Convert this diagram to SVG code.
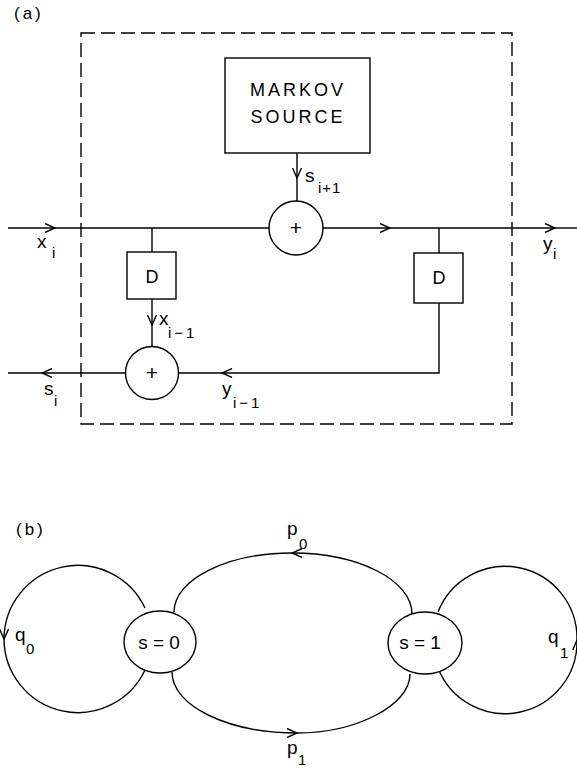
<svg xmlns="http://www.w3.org/2000/svg" width="577" height="770" viewBox="0 0 577 770">
<style>
.ln{fill:none;stroke:#000;stroke-width:1.4}
.bx{fill:#fff;stroke:#000;stroke-width:1.4}
.t{font-family:"Liberation Sans",Arial,sans-serif;fill:#000}
.m{font-size:19px}
.s{font-size:15px}
</style>
<defs>
<marker id="arr" viewBox="0 0 12 10" refX="11" refY="5" markerWidth="12" markerHeight="10" markerUnits="userSpaceOnUse" orient="auto"><path d="M1,0.5 L11,5 L1,9.5" fill="none" stroke="#000" stroke-width="1.4"/></marker>
</defs>
<rect width="577" height="770" fill="#fff"/>
<text class="t" x="14" y="19" font-size="17" letter-spacing="3">(a)</text>
<text class="t" x="16" y="535" font-size="17" letter-spacing="3">(b)</text>

<g id="connectors">
<!-- (a) -->
<line class="ln" x1="8" y1="228" x2="55" y2="228" marker-end="url(#arr)"/>
<line class="ln" x1="55" y1="228" x2="269" y2="228"/>
<line class="ln" x1="323" y1="228" x2="390" y2="228" marker-end="url(#arr)"/>
<line class="ln" x1="390" y1="228" x2="555" y2="228" marker-end="url(#arr)"/>
<line class="ln" x1="555" y1="228" x2="577" y2="228"/>
<line class="ln" x1="297" y1="153" x2="297" y2="178" marker-end="url(#arr)"/>
<line class="ln" x1="297" y1="178" x2="297" y2="201"/>
<line class="ln" x1="152" y1="228" x2="152" y2="252"/>
<line class="ln" x1="152" y1="299" x2="152" y2="325" marker-end="url(#arr)"/>
<line class="ln" x1="152" y1="325" x2="152" y2="347"/>
<line class="ln" x1="439" y1="228" x2="439" y2="253"/>
<polyline class="ln" points="439,303 439,373 222,373" marker-end="url(#arr)"/>
<line class="ln" x1="222" y1="373" x2="178" y2="373"/>
<line class="ln" x1="126" y1="373" x2="42" y2="373" marker-end="url(#arr)"/>
<line class="ln" x1="42" y1="373" x2="8" y2="373"/>
<!-- (b) -->
<path class="ln" d="M412,614 C412,580 358,553 292,553" marker-end="url(#arr)"/>
<path class="ln" d="M292,553 C228,553 174,579 174,612"/>
<path class="ln" d="M172,672 C172,706 228,733 297,733" marker-end="url(#arr)"/>
<path class="ln" d="M297,733 C355,733 410,706 410,674"/>
<path class="ln" d="M145,608 A74,74 0 0 0 4,639" marker-end="url(#arr)"/>
<path class="ln" d="M4,639 A74,74 0 0 0 145,670"/>
<path class="ln" d="M438,668 A72,72 0 0 0 577,640" marker-end="url(#arr)"/>
<path class="ln" d="M577,640 A72,72 0 0 0 438,612"/>
</g>

<g id="boundary">
<rect x="81" y="33" width="431" height="391" fill="none" stroke="#000" stroke-width="1.4" stroke-dasharray="14 6"/>
</g>

<g id="markov-source">
<rect class="bx" x="225" y="58" width="145" height="95"/>
<text class="t" x="298" y="96" font-size="18" letter-spacing="3" text-anchor="middle">MARKOV</text>
<text class="t" x="298" y="123" font-size="18" letter-spacing="3" text-anchor="middle">SOURCE</text>
</g>

<g id="adder-top">
<circle class="bx" cx="296" cy="228" r="27"/>
<text class="t" x="296" y="235" font-size="21" text-anchor="middle">+</text>
</g>

<g id="delay-x">
<rect class="bx" x="127" y="252" width="49" height="47"/>
<text class="t" x="152" y="283" font-size="18" text-anchor="middle">D</text>
</g>

<g id="delay-y">
<rect class="bx" x="414" y="253" width="49" height="50"/>
<text class="t" x="439" y="284" font-size="18" text-anchor="middle">D</text>
</g>

<g id="adder-bottom">
<circle class="bx" cx="152" cy="373" r="26.5"/>
<text class="t" x="152" y="380" font-size="21" text-anchor="middle">+</text>
</g>

<g id="labels-a">
<text class="t m" x="305" y="182">s</text><text class="t s" x="318" y="193" letter-spacing="1">i+1</text>
<text class="t m" x="37" y="248">x</text><text class="t s" x="52" y="258">i</text>
<text class="t m" x="543" y="250">y</text><text class="t s" x="553" y="259">i</text>
<text class="t m" x="159" y="325">x</text><text class="t s" x="168" y="338" letter-spacing="3">i−1</text>
<text class="t m" x="44" y="395">s</text><text class="t s" x="54" y="406">i</text>
<text class="t m" x="222" y="395">y</text><text class="t s" x="233" y="408" letter-spacing="3">i−1</text>
</g>

<g id="state-0">
<ellipse class="bx" cx="160" cy="642" rx="36" ry="31"/>
<text class="t m" x="159" y="649" text-anchor="middle">s = 0</text>
</g>

<g id="state-1">
<ellipse class="bx" cx="425" cy="643" rx="37" ry="31"/>
<text class="t m" x="420" y="649" text-anchor="middle">s = 1</text>
</g>

<g id="labels-b">
<text class="t m" x="287" y="535">p</text><text class="t s" x="299" y="549">0</text>
<text class="t m" x="287" y="754">p</text><text class="t s" x="298" y="765">1</text>
<text class="t m" x="15" y="641">q</text><text class="t s" x="26" y="654">0</text>
<text class="t m" x="548" y="643">q</text><text class="t s" x="560" y="658">1</text>
</g>
</svg>
